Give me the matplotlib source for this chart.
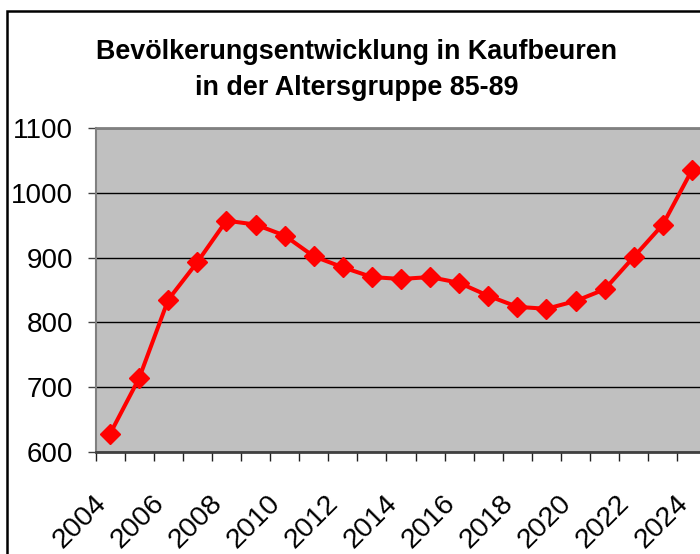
import matplotlib
matplotlib.use("Agg")
import matplotlib.pyplot as plt
from matplotlib.patches import Rectangle
from matplotlib.ticker import FixedLocator, NullFormatter
from matplotlib.transforms import ScaledTranslation

years = list(range(2004, 2025))
values = [628, 714, 835, 893, 957, 951, 934, 902, 885, 870, 867, 870, 861, 841, 824, 821, 833, 851, 901, 951, 1035]
tick_years = list(range(2004, 2025, 2))
title_lines = ["Bevölkerungsentwicklung in Kaufbeuren", "in der Altersgruppe 85-89"]

W, H = 700, 554
fig = plt.figure(figsize=(W / 100, H / 100), dpi=100)
plt.rcParams['font.family'] = ['Liberation Sans', 'DejaVu Sans']

ax = fig.add_axes([95.5 / W, (H - 452) / H, 611 / W, 324 / H])
ax.set_facecolor('#C0C0C0')
x = list(range(len(years)))
ax.plot(x, values, color='#FF0000', lw=2.9, marker='D', markersize=9.8, zorder=3, clip_on=False)

ax.set_xlim(-0.5, len(years) - 0.5)
ax.set_ylim(600, 1100)
ax.set_yticks([600, 700, 800, 900, 1000, 1100])
ax.set_yticklabels(['600', '700', '800', '900', '1000', '1100'])
ax.tick_params(axis='y', length=5.8, width=1, color='#404040', pad=10.5, labelsize=20)

tpos = [years.index(t) for t in tick_years]
ax.set_xticks(tpos)
ax.set_xticklabels([str(t) for t in tick_years])
ax.xaxis.set_minor_locator(FixedLocator([i - 0.5 for i in range(len(years) + 1)]))
ax.xaxis.set_minor_formatter(NullFormatter())
ax.tick_params(axis='x', which='major', length=0, pad=34, labelsize=20.5)
ax.tick_params(axis='x', which='minor', length=6.5, width=1, color='#202020')

ax.yaxis.grid(True, color='black', lw=1)
ax.set_axisbelow(True)
ax.spines['top'].set_color('#808080')
ax.spines['top'].set_linewidth(2)
ax.spines['left'].set_color('#808080')
ax.spines['left'].set_linewidth(1.5)
ax.spines['bottom'].set_color('#404040')
ax.spines['bottom'].set_linewidth(2)
ax.spines['right'].set_visible(False)

fig.text(357 / W, 1 - 59 / H, title_lines[0], ha='center', va='baseline', fontsize=19.4, fontweight='bold')
fig.text(357 / W, 1 - 95 / H, title_lines[1], ha='center', va='baseline', fontsize=19.4, fontweight='bold')

fig.add_artist(Rectangle((6.5 / W, -0.1), 2, (H - 10.5) / H + 0.1, transform=fig.transFigure,
                         fill=False, lw=1.8, edgecolor='black'))

offset = ScaledTranslation(-8 / 100, 0, fig.dpi_scale_trans)
for lab in ax.get_xticklabels():
    lab.set_rotation(45)
    lab.set_ha('right')
    lab.set_va('center')
    lab.set_rotation_mode('anchor')
    lab.set_transform(lab.get_transform() + offset)

fig.savefig('out.png', dpi=100)
